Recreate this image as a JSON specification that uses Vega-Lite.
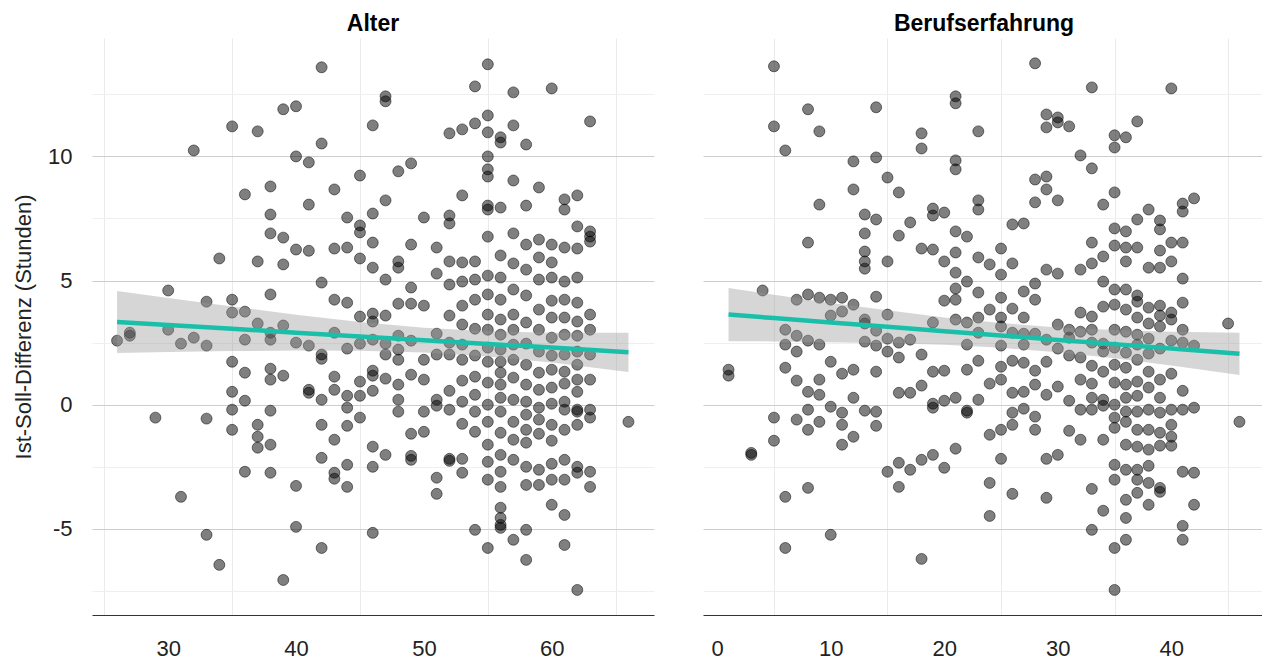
{
  "$schema": "https://vega.github.io/schema/vega-lite/v6.json",
  "background": "white",
  "autosize": {"type": "pad"},
  "padding": {"left": 12, "top": 13, "right": 0, "bottom": 0},
  "spacing": 49,
  "config": {
    "view": {"stroke": null},
    "font": "Liberation Sans",
    "axis": {"labelFont": "Liberation Sans", "titleFont": "Liberation Sans", "labelColor": "#222222", "titleColor": "#222222", "labelOverlap": false},
    "title": {"font": "Liberation Sans"}
  },
  "datasets": {
    "alter": [
      {"x":26,"y":2.58},{"x":27,"y":2.90},{"x":27,"y":2.78},{"x":29,"y":-0.52},{"x":30,"y":4.60},{"x":30,"y":3.02},
      {"x":31,"y":-3.71},{"x":31,"y":2.46},{"x":32,"y":10.24},{"x":32,"y":2.70},
      {"x":33,"y":4.15},{"x":33,"y":2.38},{"x":33,"y":-0.56},{"x":33,"y":-5.24},{"x":34,"y":5.89},{"x":34,"y":-6.45},
      {"x":35,"y":11.21},{"x":35,"y":4.23},{"x":35,"y":3.71},{"x":35,"y":1.73},{"x":35,"y":0.52},{"x":35,"y":-0.20},{"x":35,"y":-1.01},
      {"x":36,"y":8.47},{"x":36,"y":3.75},{"x":36,"y":2.62},{"x":36,"y":1.29},{"x":36,"y":0.16},{"x":36,"y":-2.70},
      {"x":37,"y":11.01},{"x":37,"y":5.77},{"x":37,"y":3.27},{"x":37,"y":-0.81},{"x":37,"y":-1.29},{"x":37,"y":-1.73},
      {"x":38,"y":8.79},{"x":38,"y":7.66},{"x":38,"y":6.90},{"x":38,"y":4.44},{"x":38,"y":2.90},{"x":38,"y":2.62},{"x":38,"y":1.45},{"x":38,"y":1.01},{"x":38,"y":-0.24},{"x":38,"y":-1.61},{"x":38,"y":-2.74},
      {"x":39,"y":11.90},{"x":39,"y":6.73},{"x":39,"y":5.65},{"x":39,"y":3.19},{"x":39,"y":1.17},{"x":39,"y":-7.06},
      {"x":40,"y":12.02},{"x":40,"y":10.00},{"x":40,"y":6.25},{"x":40,"y":2.50},{"x":40,"y":-3.27},{"x":40,"y":-4.92},
      {"x":41,"y":9.76},{"x":41,"y":8.06},{"x":41,"y":6.20},{"x":41,"y":2.38},{"x":41,"y":0.60},{"x":41,"y":0.48},
      {"x":42,"y":13.59},{"x":42,"y":10.52},{"x":42,"y":4.92},{"x":42,"y":2.02},{"x":42,"y":1.85},{"x":42,"y":0.20},{"x":42,"y":-0.81},{"x":42,"y":-2.14},{"x":42,"y":-5.77},
      {"x":43,"y":8.67},{"x":43,"y":6.29},{"x":43,"y":4.23},{"x":43,"y":2.90},{"x":43,"y":1.13},{"x":43,"y":0.60},{"x":43,"y":-1.41},{"x":43,"y":-2.74},{"x":43,"y":-2.98},
      {"x":44,"y":7.54},{"x":44,"y":6.33},{"x":44,"y":4.11},{"x":44,"y":2.26},{"x":44,"y":0.36},{"x":44,"y":-0.12},{"x":44,"y":-0.85},{"x":44,"y":-2.42},{"x":44,"y":-3.31},
      {"x":45,"y":9.23},{"x":45,"y":7.22},{"x":45,"y":6.94},{"x":45,"y":5.89},{"x":45,"y":3.55},{"x":45,"y":2.46},{"x":45,"y":0.93},{"x":45,"y":0.36},{"x":45,"y":-0.52},
      {"x":46,"y":11.25},{"x":46,"y":7.70},{"x":46,"y":6.53},{"x":46,"y":5.52},{"x":46,"y":3.67},{"x":46,"y":3.35},{"x":46,"y":2.62},{"x":46,"y":1.37},{"x":46,"y":1.17},{"x":46,"y":0.56},{"x":46,"y":-1.69},{"x":46,"y":-2.50},{"x":46,"y":-5.16},
      {"x":47,"y":12.42},{"x":47,"y":12.22},{"x":47,"y":8.23},{"x":47,"y":5.04},{"x":47,"y":3.59},{"x":47,"y":2.46},{"x":47,"y":2.02},{"x":47,"y":1.05},{"x":47,"y":-2.02},
      {"x":48,"y":9.40},{"x":48,"y":5.77},{"x":48,"y":5.52},{"x":48,"y":4.07},{"x":48,"y":2.78},{"x":48,"y":2.22},{"x":48,"y":1.81},{"x":48,"y":0.81},{"x":48,"y":0.20},{"x":48,"y":-0.28},
      {"x":49,"y":9.72},{"x":49,"y":6.45},{"x":49,"y":4.72},{"x":49,"y":4.07},{"x":49,"y":2.58},{"x":49,"y":1.21},{"x":49,"y":-1.17},{"x":49,"y":-2.06},{"x":49,"y":-2.22},
      {"x":50,"y":7.54},{"x":50,"y":3.99},{"x":50,"y":1.81},{"x":50,"y":1.01},{"x":50,"y":-0.28},{"x":50,"y":-1.09},
      {"x":51,"y":6.33},{"x":51,"y":5.28},{"x":51,"y":2.86},{"x":51,"y":2.02},{"x":51,"y":0.20},{"x":51,"y":-0.04},{"x":51,"y":-2.94},{"x":51,"y":-3.59},
      {"x":52,"y":10.93},{"x":52,"y":7.62},{"x":52,"y":7.30},{"x":52,"y":5.77},{"x":52,"y":4.84},{"x":52,"y":3.59},{"x":52,"y":2.50},{"x":52,"y":2.02},{"x":52,"y":0.56},{"x":52,"y":-0.20},{"x":52,"y":-2.18},{"x":52,"y":-2.26},
      {"x":53,"y":11.09},{"x":53,"y":8.43},{"x":53,"y":5.73},{"x":53,"y":4.96},{"x":53,"y":3.99},{"x":53,"y":3.23},{"x":53,"y":2.42},{"x":53,"y":1.81},{"x":53,"y":0.97},{"x":53,"y":0.12},{"x":53,"y":-0.77},{"x":53,"y":-2.18},{"x":53,"y":-2.74},
      {"x":54,"y":12.82},{"x":54,"y":11.33},{"x":54,"y":5.77},{"x":54,"y":5.04},{"x":54,"y":4.23},{"x":54,"y":3.06},{"x":54,"y":1.98},{"x":54,"y":1.13},{"x":54,"y":0.40},{"x":54,"y":-0.28},{"x":54,"y":-1.09},{"x":54,"y":-5.04},
      {"x":55,"y":13.71},{"x":55,"y":11.65},{"x":55,"y":10.97},{"x":55,"y":10.00},{"x":55,"y":9.48},{"x":55,"y":9.19},{"x":55,"y":8.02},{"x":55,"y":7.86},{"x":55,"y":6.77},{"x":55,"y":5.20},{"x":55,"y":4.44},{"x":55,"y":3.63},{"x":55,"y":3.02},{"x":55,"y":2.30},{"x":55,"y":1.73},{"x":55,"y":0.89},{"x":55,"y":0.00},{"x":55,"y":-0.69},{"x":55,"y":-1.61},{"x":55,"y":-2.30},{"x":55,"y":-3.02},{"x":55,"y":-5.77},
      {"x":56,"y":10.77},{"x":56,"y":10.56},{"x":56,"y":7.94},{"x":56,"y":6.01},{"x":56,"y":5.12},{"x":56,"y":4.23},{"x":56,"y":3.43},{"x":56,"y":2.82},{"x":56,"y":2.22},{"x":56,"y":1.73},{"x":56,"y":1.29},{"x":56,"y":0.81},{"x":56,"y":0.28},{"x":56,"y":-0.28},{"x":56,"y":-1.13},{"x":56,"y":-2.02},{"x":56,"y":-2.70},{"x":56,"y":-3.31},{"x":56,"y":-4.15},{"x":56,"y":-4.56},{"x":56,"y":-4.84},{"x":56,"y":-4.96},
      {"x":57,"y":12.58},{"x":57,"y":11.25},{"x":57,"y":9.03},{"x":57,"y":6.90},{"x":57,"y":5.69},{"x":57,"y":4.64},{"x":57,"y":3.63},{"x":57,"y":3.02},{"x":57,"y":2.42},{"x":57,"y":1.81},{"x":57,"y":1.09},{"x":57,"y":0.20},{"x":57,"y":-0.69},{"x":57,"y":-1.41},{"x":57,"y":-2.22},{"x":57,"y":-5.44},
      {"x":58,"y":10.48},{"x":58,"y":8.02},{"x":58,"y":6.45},{"x":58,"y":5.44},{"x":58,"y":4.40},{"x":58,"y":3.31},{"x":58,"y":2.46},{"x":58,"y":1.61},{"x":58,"y":0.81},{"x":58,"y":0.12},{"x":58,"y":-0.40},{"x":58,"y":-1.01},{"x":58,"y":-1.53},{"x":58,"y":-2.50},{"x":58,"y":-3.23},{"x":58,"y":-5.04},{"x":58,"y":-6.25},
      {"x":59,"y":8.75},{"x":59,"y":6.65},{"x":59,"y":5.93},{"x":59,"y":5.04},{"x":59,"y":3.83},{"x":59,"y":3.02},{"x":59,"y":2.14},{"x":59,"y":1.29},{"x":59,"y":0.60},{"x":59,"y":-0.12},{"x":59,"y":-0.60},{"x":59,"y":-1.17},{"x":59,"y":-2.62},{"x":59,"y":-3.23},
      {"x":60,"y":12.74},{"x":60,"y":6.45},{"x":60,"y":5.73},{"x":60,"y":5.12},{"x":60,"y":4.19},{"x":60,"y":3.51},{"x":60,"y":2.70},{"x":60,"y":1.98},{"x":60,"y":1.41},{"x":60,"y":0.69},{"x":60,"y":0.04},{"x":60,"y":-0.81},{"x":60,"y":-1.45},{"x":60,"y":-2.38},{"x":60,"y":-3.02},{"x":60,"y":-4.03},
      {"x":61,"y":8.27},{"x":61,"y":7.86},{"x":61,"y":6.33},{"x":61,"y":4.96},{"x":61,"y":4.23},{"x":61,"y":3.51},{"x":61,"y":2.82},{"x":61,"y":2.02},{"x":61,"y":1.33},{"x":61,"y":0.85},{"x":61,"y":0.12},{"x":61,"y":-0.20},{"x":61,"y":-1.01},{"x":61,"y":-2.22},{"x":61,"y":-3.02},{"x":61,"y":-4.44},{"x":61,"y":-5.65},
      {"x":62,"y":8.43},{"x":62,"y":7.18},{"x":62,"y":6.29},{"x":62,"y":5.12},{"x":62,"y":4.11},{"x":62,"y":3.35},{"x":62,"y":2.78},{"x":62,"y":2.14},{"x":62,"y":1.61},{"x":62,"y":1.01},{"x":62,"y":0.52},{"x":62,"y":-0.20},{"x":62,"y":-0.28},{"x":62,"y":-0.81},{"x":62,"y":-2.50},{"x":62,"y":-2.74},{"x":62,"y":-7.46},
      {"x":63,"y":11.41},{"x":63,"y":6.98},{"x":63,"y":6.77},{"x":63,"y":6.57},{"x":63,"y":3.63},{"x":63,"y":3.02},{"x":63,"y":2.02},{"x":63,"y":1.01},{"x":63,"y":-0.20},{"x":63,"y":-0.52},{"x":63,"y":-2.70},{"x":63,"y":-3.31},
      {"x":66,"y":-0.69}
    ],
    "beruf": [
      {"x":1,"y":1.41},{"x":1,"y":1.17},{"x":3,"y":-1.94},{"x":3,"y":-2.02},{"x":4,"y":4.60},
      {"x":5,"y":13.63},{"x":5,"y":11.21},{"x":5,"y":-0.52},{"x":5,"y":-1.45},
      {"x":6,"y":10.24},{"x":6,"y":3.02},{"x":6,"y":2.42},{"x":6,"y":1.49},{"x":6,"y":-3.71},{"x":6,"y":-5.77},
      {"x":7,"y":4.23},{"x":7,"y":2.78},{"x":7,"y":2.14},{"x":7,"y":0.97},{"x":7,"y":-0.60},
      {"x":8,"y":11.90},{"x":8,"y":6.53},{"x":8,"y":4.44},{"x":8,"y":2.58},{"x":8,"y":0.52},{"x":8,"y":-0.20},{"x":8,"y":-1.01},{"x":8,"y":-3.35},
      {"x":9,"y":11.01},{"x":9,"y":8.06},{"x":9,"y":4.31},{"x":9,"y":2.42},{"x":9,"y":1.01},{"x":9,"y":0.40},{"x":9,"y":-0.69},
      {"x":10,"y":4.23},{"x":10,"y":3.59},{"x":10,"y":1.73},{"x":10,"y":-0.08},{"x":10,"y":-5.24},
      {"x":11,"y":4.31},{"x":11,"y":3.75},{"x":11,"y":1.25},{"x":11,"y":-0.32},{"x":11,"y":-0.81},{"x":11,"y":-1.61},
      {"x":12,"y":9.80},{"x":12,"y":8.67},{"x":12,"y":4.03},{"x":12,"y":1.41},{"x":12,"y":0.28},{"x":12,"y":-1.29},
      {"x":13,"y":7.66},{"x":13,"y":6.90},{"x":13,"y":6.17},{"x":13,"y":5.77},{"x":13,"y":5.48},{"x":13,"y":3.43},{"x":13,"y":3.27},{"x":13,"y":2.54},{"x":13,"y":-0.24},
      {"x":14,"y":11.98},{"x":14,"y":9.96},{"x":14,"y":7.46},{"x":14,"y":4.35},{"x":14,"y":2.98},{"x":14,"y":2.38},{"x":14,"y":1.33},{"x":14,"y":-0.28},{"x":14,"y":-0.85},
      {"x":15,"y":9.15},{"x":15,"y":5.77},{"x":15,"y":3.63},{"x":15,"y":2.66},{"x":15,"y":2.14},{"x":15,"y":-2.70},
      {"x":16,"y":8.55},{"x":16,"y":6.81},{"x":16,"y":2.50},{"x":16,"y":1.90},{"x":16,"y":0.48},{"x":16,"y":-2.34},{"x":16,"y":-3.31},
      {"x":17,"y":7.34},{"x":17,"y":2.62},{"x":17,"y":0.48},{"x":17,"y":-2.62},
      {"x":18,"y":10.93},{"x":18,"y":10.32},{"x":18,"y":6.29},{"x":18,"y":2.02},{"x":18,"y":0.77},{"x":18,"y":-2.22},{"x":18,"y":-6.21},
      {"x":19,"y":7.90},{"x":19,"y":7.62},{"x":19,"y":6.25},{"x":19,"y":3.31},{"x":19,"y":1.33},{"x":19,"y":0.04},{"x":19,"y":-0.12},{"x":19,"y":-2.02},
      {"x":20,"y":7.74},{"x":20,"y":5.77},{"x":20,"y":4.19},{"x":20,"y":1.37},{"x":20,"y":0.16},{"x":20,"y":-2.54},
      {"x":21,"y":12.42},{"x":21,"y":12.14},{"x":21,"y":9.84},{"x":21,"y":9.48},{"x":21,"y":6.98},{"x":21,"y":6.13},{"x":21,"y":5.32},{"x":21,"y":4.68},{"x":21,"y":4.23},{"x":21,"y":3.43},{"x":21,"y":0.28},{"x":21,"y":-1.77},
      {"x":22,"y":6.77},{"x":22,"y":4.96},{"x":22,"y":3.31},{"x":22,"y":2.42},{"x":22,"y":1.41},{"x":22,"y":-0.24},{"x":22,"y":-0.32},
      {"x":23,"y":11.01},{"x":23,"y":8.23},{"x":23,"y":7.86},{"x":23,"y":5.93},{"x":23,"y":4.52},{"x":23,"y":3.51},{"x":23,"y":2.90},{"x":23,"y":1.77},{"x":23,"y":0.20},
      {"x":24,"y":5.65},{"x":24,"y":3.83},{"x":24,"y":0.85},{"x":24,"y":-1.21},{"x":24,"y":-3.15},{"x":24,"y":-4.48},
      {"x":25,"y":6.29},{"x":25,"y":5.24},{"x":25,"y":4.31},{"x":25,"y":3.51},{"x":25,"y":3.15},{"x":25,"y":2.38},{"x":25,"y":1.53},{"x":25,"y":1.01},{"x":25,"y":-1.01},{"x":25,"y":-2.18},
      {"x":26,"y":7.26},{"x":26,"y":5.69},{"x":26,"y":3.87},{"x":26,"y":2.90},{"x":26,"y":1.77},{"x":26,"y":0.48},{"x":26,"y":-0.32},{"x":26,"y":-0.81},{"x":26,"y":-3.59},
      {"x":27,"y":7.30},{"x":27,"y":4.56},{"x":27,"y":3.51},{"x":27,"y":2.86},{"x":27,"y":2.42},{"x":27,"y":1.69},{"x":27,"y":0.52},{"x":27,"y":-0.16},
      {"x":28,"y":13.75},{"x":28,"y":9.07},{"x":28,"y":8.15},{"x":28,"y":4.88},{"x":28,"y":4.23},{"x":28,"y":2.86},{"x":28,"y":1.37},{"x":28,"y":0.81},{"x":28,"y":-0.48},{"x":28,"y":-1.01},
      {"x":29,"y":11.69},{"x":29,"y":11.17},{"x":29,"y":9.19},{"x":29,"y":8.67},{"x":29,"y":5.44},{"x":29,"y":2.62},{"x":29,"y":1.73},{"x":29,"y":0.40},{"x":29,"y":-2.18},{"x":29,"y":-3.75},
      {"x":30,"y":11.57},{"x":30,"y":11.37},{"x":30,"y":8.23},{"x":30,"y":5.28},{"x":30,"y":3.23},{"x":30,"y":2.26},{"x":30,"y":0.73},{"x":30,"y":-2.02},
      {"x":31,"y":11.21},{"x":31,"y":3.02},{"x":31,"y":2.70},{"x":31,"y":1.98},{"x":31,"y":0.16},{"x":31,"y":-1.05},
      {"x":32,"y":10.04},{"x":32,"y":5.44},{"x":32,"y":3.71},{"x":32,"y":2.94},{"x":32,"y":1.90},{"x":32,"y":1.01},{"x":32,"y":-0.20},{"x":32,"y":-1.41},
      {"x":33,"y":12.78},{"x":33,"y":9.52},{"x":33,"y":6.53},{"x":33,"y":5.69},{"x":33,"y":3.55},{"x":33,"y":3.02},{"x":33,"y":2.50},{"x":33,"y":1.57},{"x":33,"y":0.85},{"x":33,"y":0.28},{"x":33,"y":-0.20},{"x":33,"y":-3.39},{"x":33,"y":-5.04},
      {"x":34,"y":8.06},{"x":34,"y":5.97},{"x":34,"y":4.96},{"x":34,"y":3.95},{"x":34,"y":2.46},{"x":34,"y":2.14},{"x":34,"y":1.33},{"x":34,"y":0.20},{"x":34,"y":-0.04},{"x":34,"y":-1.41},{"x":34,"y":-4.27},
      {"x":35,"y":10.85},{"x":35,"y":10.36},{"x":35,"y":8.55},{"x":35,"y":7.10},{"x":35,"y":6.41},{"x":35,"y":4.64},{"x":35,"y":4.03},{"x":35,"y":3.02},{"x":35,"y":2.30},{"x":35,"y":1.61},{"x":35,"y":0.89},{"x":35,"y":0.00},{"x":35,"y":-0.52},{"x":35,"y":-0.93},{"x":35,"y":-2.42},{"x":35,"y":-3.02},{"x":35,"y":-5.77},{"x":35,"y":-7.46},
      {"x":36,"y":10.77},{"x":36,"y":6.98},{"x":36,"y":6.33},{"x":36,"y":5.77},{"x":36,"y":4.64},{"x":36,"y":3.83},{"x":36,"y":2.94},{"x":36,"y":2.10},{"x":36,"y":1.49},{"x":36,"y":0.81},{"x":36,"y":0.28},{"x":36,"y":-0.28},{"x":36,"y":-0.69},{"x":36,"y":-1.61},{"x":36,"y":-2.62},{"x":36,"y":-3.83},{"x":36,"y":-4.56},{"x":36,"y":-5.44},
      {"x":37,"y":11.41},{"x":37,"y":7.46},{"x":37,"y":6.33},{"x":37,"y":4.40},{"x":37,"y":4.15},{"x":37,"y":3.51},{"x":37,"y":2.82},{"x":37,"y":2.42},{"x":37,"y":1.81},{"x":37,"y":0.93},{"x":37,"y":0.36},{"x":37,"y":-0.28},{"x":37,"y":-1.01},{"x":37,"y":-1.69},{"x":37,"y":-2.62},{"x":37,"y":-3.02},{"x":37,"y":-3.55},
      {"x":38,"y":7.86},{"x":38,"y":5.52},{"x":38,"y":3.91},{"x":38,"y":3.27},{"x":38,"y":2.66},{"x":38,"y":2.06},{"x":38,"y":1.33},{"x":38,"y":0.69},{"x":38,"y":-0.20},{"x":38,"y":-1.01},{"x":38,"y":-1.81},{"x":38,"y":-2.46},{"x":38,"y":-3.15},{"x":38,"y":-4.03},
      {"x":39,"y":7.42},{"x":39,"y":7.06},{"x":39,"y":6.21},{"x":39,"y":5.52},{"x":39,"y":3.99},{"x":39,"y":3.59},{"x":39,"y":3.15},{"x":39,"y":2.26},{"x":39,"y":1.01},{"x":39,"y":0.28},{"x":39,"y":-0.32},{"x":39,"y":-1.13},{"x":39,"y":-1.65},{"x":39,"y":-3.35},{"x":39,"y":-3.51},
      {"x":40,"y":12.74},{"x":40,"y":6.53},{"x":40,"y":5.77},{"x":40,"y":3.71},{"x":40,"y":3.43},{"x":40,"y":2.58},{"x":40,"y":1.25},{"x":40,"y":-0.20},{"x":40,"y":-0.81},{"x":40,"y":-1.29},{"x":40,"y":-1.65},
      {"x":41,"y":8.10},{"x":41,"y":7.78},{"x":41,"y":6.53},{"x":41,"y":5.08},{"x":41,"y":4.11},{"x":41,"y":3.02},{"x":41,"y":2.50},{"x":41,"y":0.56},{"x":41,"y":-0.20},{"x":41,"y":-2.70},{"x":41,"y":-4.88},{"x":41,"y":-5.44},
      {"x":42,"y":8.31},{"x":42,"y":2.38},{"x":42,"y":-0.12},{"x":42,"y":-2.74},{"x":42,"y":-4.03},
      {"x":45,"y":3.27},{"x":46,"y":-0.69}
    ],
    "alterFit": [
      {"x":26,"fit":3.33,"lo":2.08,"hi":4.58},{"x":30,"fit":3.21,"lo":2.12,"hi":4.30},{"x":35,"fit":3.06,"lo":2.16,"hi":3.96},
      {"x":40,"fit":2.90,"lo":2.18,"hi":3.62},{"x":45,"fit":2.75,"lo":2.17,"hi":3.33},{"x":50,"fit":2.60,"lo":2.10,"hi":3.10},
      {"x":55,"fit":2.45,"lo":1.94,"hi":2.96},{"x":60,"fit":2.30,"lo":1.70,"hi":2.90},{"x":66,"fit":2.11,"lo":1.32,"hi":2.90}
    ],
    "berufFit": [
      {"x":1,"fit":3.63,"lo":2.56,"hi":4.70},{"x":5,"fit":3.49,"lo":2.55,"hi":4.43},{"x":10,"fit":3.31,"lo":2.52,"hi":4.10},
      {"x":15,"fit":3.14,"lo":2.48,"hi":3.80},{"x":20,"fit":2.96,"lo":2.41,"hi":3.51},{"x":25,"fit":2.79,"lo":2.29,"hi":3.29},
      {"x":30,"fit":2.61,"lo":2.11,"hi":3.11},{"x":35,"fit":2.44,"lo":1.87,"hi":3.01},{"x":40,"fit":2.26,"lo":1.58,"hi":2.94},
      {"x":46,"fit":2.05,"lo":1.20,"hi":2.90}
    ]
  },
  "hconcat": [
    {
      "width": 562,
      "height": 577,
      "title": {"text": "Alter", "fontSize": 23, "fontWeight": "bold", "color": "#000000", "anchor": "middle", "offset": 2},
      "layer": [
        {
          "data": {"name": "alter"},
          "mark": {"type": "circle", "size": 120, "fill": "#000000", "fillOpacity": 0.5, "stroke": "#000000", "strokeOpacity": 0.5, "strokeWidth": 1},
          "encoding": {
            "x": {"field": "x", "type": "quantitative",
              "scale": {"domain": [24.04, 68], "nice": false, "zero": false},
              "axis": {"title": null, "values": [25, 30, 35, 40, 45, 50, 55, 60, 65],
                "labelExpr": "datum.value % 10 === 0 ? toString(datum.value) : ''",
                "grid": true,
                "gridColor": {"condition": {"test": "datum.value % 10 === 5", "value": "#ebebeb"}, "value": "rgba(0,0,0,0)"},
                "gridWidth": 1,
                "ticks": false, "domain": true, "domainColor": "#333333", "domainWidth": 1.2,
                "labelFontSize": 22, "labelPadding": 23}},
            "y": {"field": "y", "type": "quantitative",
              "scale": {"domain": [-8.47, 14.77], "nice": false, "zero": false},
              "axis": {"title": "Ist-Soll-Differenz (Stunden)", "values": [-7.5, -5, -2.5, 0, 2.5, 5, 7.5, 10, 12.5],
                "labelExpr": "datum.value % 5 === 0 ? toString(datum.value) : ''",
                "grid": true,
                "gridColor": {"condition": {"test": "datum.value % 5 === 0", "value": "#cdcdcd"}, "value": "#efefef"},
                "gridWidth": 1.2,
                "ticks": false, "domain": false,
                "labelFontSize": 22, "labelPadding": 20,
                "titleFontSize": 22, "titleFontWeight": "normal", "titlePadding": 12}}
          }
        },
        {
          "data": {"name": "alterFit"},
          "mark": {"type": "area", "color": "#999999", "opacity": 0.4},
          "encoding": {
            "x": {"field": "x", "type": "quantitative"},
            "y": {"field": "lo", "type": "quantitative"},
            "y2": {"field": "hi"}
          }
        },
        {
          "data": {"name": "alterFit"},
          "mark": {"type": "line", "color": "#19BFA8", "strokeWidth": 4.5},
          "encoding": {
            "x": {"field": "x", "type": "quantitative"},
            "y": {"field": "fit", "type": "quantitative"}
          }
        }
      ]
    },
    {
      "width": 562,
      "height": 577,
      "title": {"text": "Berufserfahrung", "fontSize": 23, "fontWeight": "bold", "color": "#000000", "anchor": "middle", "offset": 2},
      "layer": [
        {
          "data": {"name": "beruf"},
          "mark": {"type": "circle", "size": 120, "fill": "#000000", "fillOpacity": 0.5, "stroke": "#000000", "strokeOpacity": 0.5, "strokeWidth": 1},
          "encoding": {
            "x": {"field": "x", "type": "quantitative",
              "scale": {"domain": [-1.25, 48.25], "nice": false, "zero": false},
              "axis": {"title": null, "values": [0, 5, 10, 15, 20, 25, 30, 35, 40, 45],
                "labelExpr": "datum.value % 10 === 0 ? toString(datum.value) : ''",
                "grid": true,
                "gridColor": {"condition": {"test": "datum.value % 10 === 5", "value": "#ebebeb"}, "value": "rgba(0,0,0,0)"},
                "gridWidth": 1,
                "ticks": false, "domain": true, "domainColor": "#333333", "domainWidth": 1.2,
                "labelFontSize": 22, "labelPadding": 23}},
            "y": {"field": "y", "type": "quantitative",
              "scale": {"domain": [-8.47, 14.77], "nice": false, "zero": false},
              "axis": {"title": null, "values": [-7.5, -5, -2.5, 0, 2.5, 5, 7.5, 10, 12.5],
                "labels": false,
                "grid": true,
                "gridColor": {"condition": {"test": "datum.value % 5 === 0", "value": "#cdcdcd"}, "value": "#efefef"},
                "gridWidth": 1.2,
                "ticks": false, "domain": false, "minExtent": 0, "maxExtent": 0, "labelPadding": 0}}
          }
        },
        {
          "data": {"name": "berufFit"},
          "mark": {"type": "area", "color": "#999999", "opacity": 0.4},
          "encoding": {
            "x": {"field": "x", "type": "quantitative"},
            "y": {"field": "lo", "type": "quantitative"},
            "y2": {"field": "hi"}
          }
        },
        {
          "data": {"name": "berufFit"},
          "mark": {"type": "line", "color": "#19BFA8", "strokeWidth": 4.5},
          "encoding": {
            "x": {"field": "x", "type": "quantitative"},
            "y": {"field": "fit", "type": "quantitative"}
          }
        }
      ]
    }
  ]
}
